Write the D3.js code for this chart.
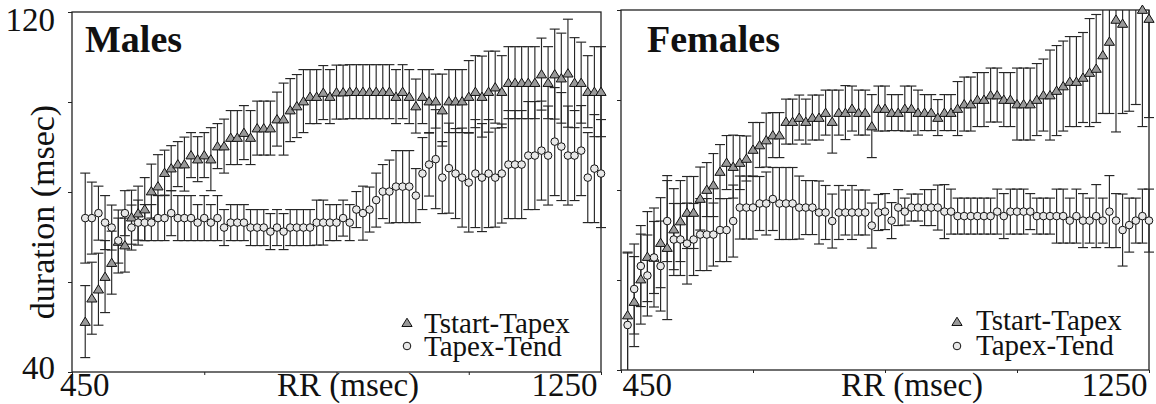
<!DOCTYPE html>
<html>
<head>
<meta charset="utf-8">
<script src="https://cdn.jsdelivr.net/npm/d3@7/dist/d3.min.js"></script>
<style>
  html, body { margin: 0; padding: 0; background: #fff; }
  svg { display: block; font-family: "Liberation Serif", "Times New Roman", Times, serif; }
</style>
</head>
<body>
<svg id="chart" width="1156" height="404"></svg>
<script>
// RR interval bins (msec)
const malesRR = [470,480,490,500,510,520,530,540,550,560,570,580,590,600,610,620,630,640,650,660,
  670,680,690,700,710,720,730,740,750,760,770,780,790,800,810,820,830,840,850,860,
  870,880,890,900,910,920,930,940,950,960,970,980,990,1000,1010,1020,1030,1040,1050,1060,
  1070,1080,1090,1100,1110,1120,1130,1140,1150,1160,1170,1180,1190,1200,1210,1220,1230,1240,1250];
const femalesRR = [460,470,480,490,500,510,520,530,540,550,560,570,580,590,600,610,620,630,640,650,
  660,670,680,690,700,710,720,730,740,750,760,770,780,790,800,810,820,830,840,850,
  860,870,880,890,900,910,920,930,940,950,960,970,980,990,1000,1010,1020,1030,1040,1050,
  1060,1070,1080,1090,1100,1110,1120,1130,1140,1150,1160,1170,1180,1190,1200,1210,1220,1230,1240,1250];

// Males: Tstart-Tapex mean and SD (msec)
const malesStartApex = [51.2,56.4,58.4,61.2,64.3,69.0,68.2,74.4,75.3,76.2,
  80.2,81.3,84.3,85.3,86.2,86.2,88.2,87.3,88.2,87.3,
  90.2,90.2,92.1,92.1,93.2,92.1,94.2,94.2,94.2,96.2,
  96.2,98.2,99.1,100.2,101.2,101.2,102.1,101.2,102.2,102.2,
  102.3,102.3,102.3,102.3,102.3,102.3,102.3,101.2,102.3,101.2,
  99.1,101.2,100.2,100.2,98.2,100.2,100.2,100.2,101.2,102.3,
  101.2,102.3,103.3,102.3,104.3,104.3,104.3,104.3,104.3,106.2,
  104.3,106.2,105.3,106.4,104.3,104.3,102.3,102.3,102.3];
const malesStartApexSD = [8,8,8,8,7,7,6,6,6,7,
  6,7,5,5,5,6,5,5,5,7,
  5,6,6,6,6,6,6,6,6,6,
  8,7,7,7,6,6,6,6,6,6,
  6,6,6,6,6,6,6,6,6,6,
  6,6,7,6,8,7,7,7,8,8,
  9,9,8,8,8,8,8,8,8,8,
  8,10,10,12,10,9,8,10,10];

// Males: Tapex-Tend mean and SD (msec)
const malesApexEnd = [74.2,74.2,75.3,73.2,72.1,69.2,75.3,72.1,73.2,73.2,
  73.2,74.2,74.2,75.3,74.2,74.2,74.2,73.2,74.2,73.2,
  74.2,72.1,73.2,73.2,73.2,72.1,72.1,72.1,71.2,72.1,
  71.2,72.1,72.1,72.1,72.1,73.2,73.2,73.2,73.2,74.2,
  73.2,76.1,75.3,76.1,78.2,80.1,80.1,81.2,81.2,81.2,
  79.2,84.1,86.1,87.3,83.2,85.3,84.1,83.2,82.1,84.1,
  83.2,84.1,83.2,84.1,86.1,86.1,86.1,88.1,88.1,89.2,
  88.1,91.2,90.1,88.1,88.1,89.2,83.2,85.2,84.1];
const malesApexEndSD = [10,8,6,6,5,5,5,5,5,4,
  4,5,5,5,5,5,5,4,5,4,
  5,4,4,4,4,4,4,4,4,4,
  4,4,4,4,4,5,5,4,4,4,
  4,4,6,5,6,6,7,8,8,8,
  6,8,7,11,8,10,10,11,11,12,
  12,12,11,11,12,12,12,12,12,11,
  11,12,12,11,10,10,10,12,12];

// Females: Tstart-Tapex mean and SD (msec)
const femalesStartApex = [52.2,55.2,60.2,65.2,65.0,68.3,67.2,71.3,73.1,75.0,
  75.0,78.1,80.1,81.1,84.1,86.1,85.2,86.1,87.0,89.0,
  90.0,91.1,92.2,92.2,95.2,95.2,96.1,95.2,96.1,96.1,
  97.2,95.2,97.2,97.2,98.1,97.2,97.2,94.2,98.1,98.1,
  97.2,97.2,98.1,98.1,97.2,97.2,97.2,96.1,97.2,97.2,
  98.1,99.1,99.1,100.1,100.1,101.1,101.1,100.1,100.1,99.1,
  99.1,99.1,100.1,101.1,101.1,102.1,103.1,104.1,104.1,105.0,
  106.1,107.0,110.0,113.0,117.9,117.0,121.5,124.0,120.1,118.1];
const femalesStartApexSD = [14,10,10,10,11,10,16,9,9,8,
  8,7,6,7,6,6,7,6,5,6,
  5,6,5,5,5,5,5,5,5,5,
  5,7,5,6,5,5,5,7,5,5,
  4,4,5,5,5,4,4,4,4,4,
  6,6,6,6,6,6,6,6,6,8,
  8,8,8,8,10,10,10,10,10,10,
  12,12,13,16,25,20,24,25,26,22];

// Females: Tapex-Tend mean and SD (msec)
const femalesApexEnd = [50.0,58.0,63.1,61.0,65.0,63.1,73.1,69.0,69.0,68.1,
  69.0,70.1,70.1,70.1,71.1,71.1,73.1,76.1,76.1,76.1,
  77.0,77.0,78.0,77.0,77.0,77.0,76.1,76.1,76.1,75.0,
  75.0,73.1,75.0,75.0,75.0,75.0,75.0,72.1,75.0,75.2,
  73.2,76.1,75.2,76.1,76.1,76.1,76.1,76.1,75.2,75.2,
  74.2,74.2,74.2,74.2,74.2,74.2,75.2,74.2,75.2,75.2,
  75.2,75.2,74.2,74.2,74.2,74.2,74.2,73.2,74.2,73.2,
  73.2,74.2,73.2,75.2,73.2,71.1,72.2,73.2,74.2,73.2];
const femalesApexEndSD = [16,10,9,9,8,10,9,8,8,9,
  8,8,8,7,7,7,8,7,7,7,
  6,7,7,8,8,8,7,6,6,7,
  6,6,6,5,6,5,5,5,4,4,
  4,4,3,3,3,4,4,5,6,5,
  4,4,4,4,4,4,5,5,5,5,
  5,4,4,4,4,6,6,5,6,6,
  5,7,5,8,6,8,6,5,6,7];

// Axis ticks and labels
const xTicks = [450, 650, 850, 1050, 1250];
const xTickLabels = [450, 1250];
const yTicks = [40, 60, 80, 100, 120];
const yTickLabels = [40, 120];
const seriesNames = ["Tstart-Tapex", "Tapex-Tend"];
const xTitle = "RR (msec)";
const yTitle = "duration (msec)";

const svg = d3.select("#chart");

const panels = [
  { id: "m", title: "Males", rr: malesRR,
    tri: malesStartApex, triSD: malesStartApexSD, circ: malesApexEnd, circSD: malesApexEndSD,
    left: 72, right: 601, top: 12, bottom: 372, showYLabels: true,
    titleX: 85, xTitleX: 348, firstDx: -12.5, lastDx: -4,
    legX: 407, legTextX: 424, legY1: 322.7, legY2: 346, legBase1: 333, legBase2: 356 },
  { id: "f", title: "Females", rr: femalesRR,
    tri: femalesStartApex, triSD: femalesStartApexSD, circ: femalesApexEnd, circSD: femalesApexEndSD,
    left: 621, right: 1149, top: 10, bottom: 370, showYLabels: false,
    titleX: 647, xTitleX: 912, firstDx: 1, lastDx: -2,
    legX: 957, legTextX: 976, legY1: 321.7, legY2: 346, legBase1: 330, legBase2: 355 }
];

const triPath = "M0,-4.5L5.1,3.8L-5.1,3.8Z";
const markerStroke = "#111";
const triFill = "#999";
const circFill = "#e8e8e8";
const barColor = "#262626";
const capHalf = 5;
const circR = 3.8;

panels.forEach(p => {
  const x = d3.scaleLinear().domain([450, 1250]).range([p.left, p.right]);
  const y = d3.scaleLinear().domain([40, 120]).range([p.bottom, p.top]);
  const g = svg.append("g");

  // clip for error bars (vertical clip to the plot, caps may overhang sideways)
  svg.append("clipPath").attr("id", "clip-" + p.id)
    .append("rect")
    .attr("x", p.left - 10).attr("y", p.top)
    .attr("width", p.right - p.left + 20).attr("height", p.bottom - p.top);

  // frame
  g.append("rect")
    .attr("x", p.left).attr("y", p.top)
    .attr("width", p.right - p.left).attr("height", p.bottom - p.top)
    .attr("fill", "none").attr("stroke", "#222").attr("stroke-width", 1.3);

  // x axis
  const xAxis = d3.axisBottom(x).tickValues(xTicks).tickSize(3).tickPadding(0)
    .tickFormat(d => xTickLabels.includes(d) ? String(d) : "");
  const xg = g.append("g").attr("transform", `translate(0,${p.bottom})`).call(xAxis);
  xg.select(".domain").remove();
  xg.selectAll(".tick line").attr("stroke", "#222").attr("stroke-width", 1);
  xg.selectAll(".tick text")
    .attr("font-family", "Liberation Serif, Times New Roman, serif")
    .attr("font-size", 33).attr("fill", "#111")
    .attr("dy", 0).attr("y", 396 - p.bottom)
    .attr("text-anchor", d => d === 450 ? "start" : "end")
    .attr("x", d => d === 450 ? p.firstDx : p.lastDx);

  // y axis
  const yAxis = d3.axisLeft(y).tickValues(yTicks).tickSize(4).tickPadding(13)
    .tickFormat(d => (p.showYLabels && yTickLabels.includes(d)) ? String(d) : "");
  const yg = g.append("g").attr("transform", `translate(${p.left},0)`).call(yAxis);
  yg.select(".domain").remove();
  yg.selectAll(".tick line").attr("stroke", "#222").attr("stroke-width", 1);
  yg.selectAll(".tick text")
    .attr("font-family", "Liberation Serif, Times New Roman, serif")
    .attr("font-size", 33).attr("fill", "#111")
    .attr("dy", d => d === 120 ? 18 : 6);

  // axis titles
  g.append("text").attr("x", p.xTitleX).attr("y", 396)
    .attr("text-anchor", "middle").attr("font-size", 33).attr("fill", "#111")
    .text(xTitle);
  if (p.showYLabels) {
    g.append("text").attr("transform", "translate(54,212) rotate(-90)")
      .attr("text-anchor", "middle").attr("font-size", 34).attr("fill", "#111")
      .text(yTitle);
  }

  // panel title
  g.append("text").attr("x", p.titleX).attr("y", 52)
    .attr("font-size", 38).attr("font-weight", "bold").attr("fill", "#111")
    .text(p.title);

  const triData = p.rr.map((r, i) => ({ r, v: p.tri[i], sd: p.triSD[i] }));
  const circData = p.rr.map((r, i) => ({ r, v: p.circ[i], sd: p.circSD[i] }));

  // error bars (mean ± SD)
  const bars = g.append("g").attr("clip-path", `url(#clip-${p.id})`)
    .attr("stroke", barColor).attr("stroke-width", 1.15).attr("fill", "none");
  [triData, circData].forEach(data => {
    const eb = bars.selectAll(null).data(data).enter().append("g");
    eb.append("line")
      .attr("x1", d => x(d.r)).attr("x2", d => x(d.r))
      .attr("y1", d => y(d.v - d.sd)).attr("y2", d => y(d.v + d.sd));
    eb.append("line")
      .attr("x1", d => x(d.r) - capHalf).attr("x2", d => x(d.r) + capHalf)
      .attr("y1", d => y(d.v + d.sd)).attr("y2", d => y(d.v + d.sd));
    eb.append("line")
      .attr("x1", d => x(d.r) - capHalf).attr("x2", d => x(d.r) + capHalf)
      .attr("y1", d => y(d.v - d.sd)).attr("y2", d => y(d.v - d.sd));
  });

  // Tstart-Tapex markers (only those inside the value range)
  g.append("g").selectAll("path")
    .data(triData.filter(d => d.v <= 120.5)).enter().append("path")
    .attr("d", triPath)
    .attr("transform", d => `translate(${x(d.r)},${y(d.v)})`)
    .attr("fill", triFill).attr("stroke", markerStroke).attr("stroke-width", 1);

  // Tapex-Tend markers
  g.append("g").selectAll("circle")
    .data(circData.filter(d => d.v <= 120.5)).enter().append("circle")
    .attr("cx", d => x(d.r)).attr("cy", d => y(d.v)).attr("r", circR)
    .attr("fill", circFill).attr("stroke", markerStroke).attr("stroke-width", 1);

  // legend
  const leg = g.append("g");
  leg.append("path").attr("d", triPath)
    .attr("transform", `translate(${p.legX},${p.legY1})`)
    .attr("fill", triFill).attr("stroke", markerStroke).attr("stroke-width", 1);
  leg.append("circle").attr("cx", p.legX).attr("cy", p.legY2).attr("r", circR)
    .attr("fill", circFill).attr("stroke", markerStroke).attr("stroke-width", 1);
  leg.append("text").attr("x", p.legTextX).attr("y", p.legBase1)
    .attr("font-size", 29).attr("fill", "#111").text(seriesNames[0]);
  leg.append("text").attr("x", p.legTextX).attr("y", p.legBase2)
    .attr("font-size", 29).attr("fill", "#111").text(seriesNames[1]);
});
</script>
</body>
</html>
